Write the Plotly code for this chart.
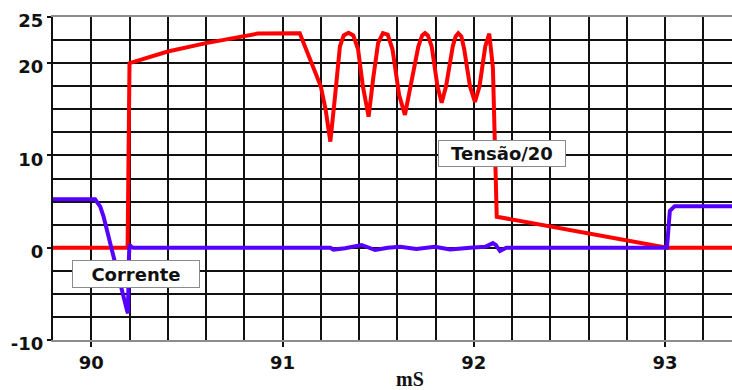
import plotly.graph_objects as go

# Tensão/20 waveform (time in ms, value in V/20)
tensao_t = [89.80, 90.19, 90.20, 90.40, 90.60, 90.80, 90.87, 91.09,
            91.20, 91.225, 91.25, 91.275, 91.30, 91.32, 91.345, 91.37,
            91.395, 91.42, 91.45, 91.475, 91.50, 91.525, 91.55, 91.575,
            91.61, 91.64, 91.67, 91.71, 91.73, 91.745, 91.76, 91.78,
            91.81, 91.832, 91.855, 91.89, 91.905, 91.919, 91.935, 91.95,
            91.98, 92.006, 92.03, 92.06, 92.081, 92.10, 92.12, 93.01, 93.35]
tensao_v = [0, 0, 20.0, 21.26, 22.17, 22.9, 23.2, 23.25,
            17.5, 15.0, 11.5, 16.5, 21.8, 23.0, 23.3, 23.0,
            21.5, 17.5, 14.2, 18.5, 22.2, 23.25, 23.1, 21.5,
            16.5, 14.4, 17.5, 21.8, 23.0, 23.25, 23.0, 21.8,
            17.5, 15.7, 17.5, 21.8, 22.9, 23.25, 22.9, 21.5,
            17.5, 15.8, 17.5, 21.8, 23.2, 19.5, 3.36, 0.0, 0.0]

# Corrente waveform (time in ms, current in A)
corrente_t = [89.80, 90.02, 90.047, 90.064, 90.187, 90.192, 90.197, 90.20,
              90.21, 90.22, 91.25, 91.266, 91.327, 91.414, 91.484, 91.55,
              91.615, 91.70, 91.797, 91.876, 91.98, 92.06, 92.10, 92.115,
              92.137, 92.17, 93.01, 93.015, 93.025, 93.05, 93.35]
corrente_i = [5.25, 5.25, 4.45, 3.4, -6.8, -7.1, -1.0, 0.3,
              0.1, 0.0, 0.0, -0.2, -0.05, 0.3, -0.25, 0.0,
              0.1, -0.15, 0.1, -0.2, 0.0, 0.1, 0.5, 0.3,
              -0.35, 0.0, 0.0, 2.0, 4.0, 4.5, 4.5]

x_ticks = [90, 91, 92, 93]
y_ticks = [-10, 0, 10, 20, 25]

fig = go.Figure()
fig.add_trace(go.Scatter(x=tensao_t, y=tensao_v, mode="lines",
                         line=dict(color="#ff0000", width=4),
                         name="Tensão/20", showlegend=False))
fig.add_trace(go.Scatter(x=corrente_t, y=corrente_i, mode="lines",
                         line=dict(color="#5500ff", width=4),
                         name="Corrente", showlegend=False))

tick_font = dict(family="DejaVu Sans", size=18, color="#111", weight=700)
grid = dict(showgrid=True, gridcolor="#111", gridwidth=1.6)

fig.update_xaxes(
    range=[89.8, 93.35], tickvals=x_ticks, ticktext=[str(v) for v in x_ticks],
    ticks="outside", ticklen=5, tickwidth=1.5, tickcolor="#111",
    tickfont=tick_font, showline=True, mirror=True, linecolor="#8c8c8c",
    linewidth=2, zeroline=False,
    minor=dict(tickmode="linear", tick0=89.8, dtick=0.2, ticklen=0,
               showgrid=True, gridcolor="#111", gridwidth=1.6),
    **grid,
)
fig.update_yaxes(
    range=[-10, 25], tickvals=y_ticks, ticktext=[str(v) for v in y_ticks],
    ticks="outside", ticklen=4, tickwidth=1.5, tickcolor="#111",
    tickfont=tick_font, showline=True, linecolor="#111", linewidth=2,
    zeroline=False, ticklabelshift=4,
    minor=dict(tickmode="linear", tick0=-10, dtick=2.5, ticklen=0,
               showgrid=True, gridcolor="#111", gridwidth=1.6),
    **grid,
)

label_font = dict(family="DejaVu Sans", size=18, color="#111", weight=700)
fig.add_annotation(x=90.235, y=-2.87, text="Corrente", showarrow=False,
                   font=label_font, bgcolor="white", bordercolor="#8a8a8a",
                   borderwidth=1, borderpad=2, width=122, height=22)
fig.add_annotation(x=92.145, y=10.24, text="Tensão/20", showarrow=False,
                   font=label_font, bgcolor="white", bordercolor="#8a8a8a",
                   borderwidth=1, borderpad=2, width=122, height=21)
fig.add_annotation(x=0.526, y=-0.16, xref="paper", yref="paper",
                   text="mS", showarrow=False,
                   font=dict(family="Liberation Serif", size=20, color="#111",
                             weight=700))

fig.update_layout(
    width=732, height=390,
    margin=dict(l=53, r=0, t=17, b=50),
    paper_bgcolor="white", plot_bgcolor="white",
    showlegend=False,
)

fig.write_html("out.html")
